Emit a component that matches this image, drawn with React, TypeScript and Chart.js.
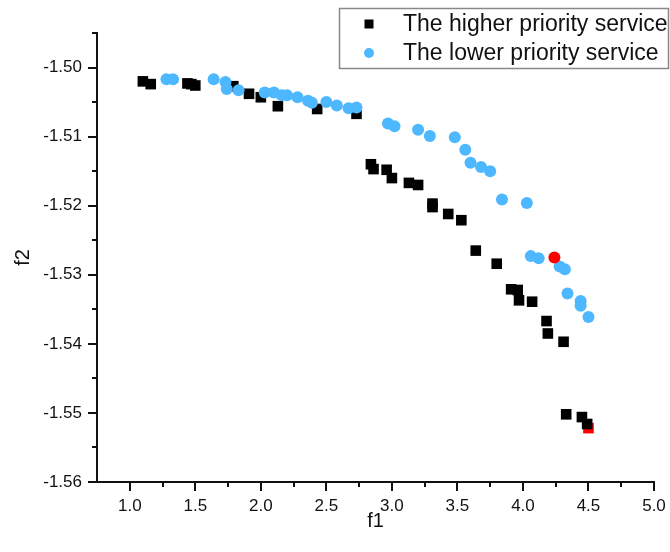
import React, { useEffect, useRef } from "react";
import { Chart, registerables } from "chart.js";

Chart.register(...registerables);

// ---- data ----
const higherX = [1.10, 1.16, 1.44, 1.47, 1.50, 1.79, 1.91, 2.00, 2.13, 2.43, 2.73, 2.84, 2.86, 2.96, 3.00, 3.13, 3.20, 3.31, 3.31, 3.43, 3.53, 3.64, 3.80, 3.91, 3.96, 3.97, 4.07, 4.18, 4.19, 4.31, 4.33, 4.45, 4.49];
const higherY = [-1.5020, -1.5024, -1.5023, -1.5024, -1.5026, -1.5027, -1.5038, -1.5043, -1.5056, -1.5060, -1.5067, -1.5140, -1.5147, -1.5148, -1.5160, -1.5167, -1.5170, -1.5197, -1.5202, -1.5212, -1.5221, -1.5265, -1.5284, -1.5321, -1.5322, -1.5337, -1.5339, -1.5367, -1.5385, -1.5397, -1.5502, -1.5506, -1.5516];

const lowerX = [1.28, 1.33, 1.64, 1.73, 1.74, 1.83, 2.03, 2.10, 2.16, 2.20, 2.28, 2.36, 2.39, 2.50, 2.58, 2.67, 2.73, 2.97, 3.02, 3.20, 3.29, 3.48, 3.56, 3.60, 3.68, 3.75, 3.84, 4.03, 4.06, 4.12, 4.28, 4.32, 4.34, 4.44, 4.44, 4.50];
const lowerY = [-1.5017, -1.5017, -1.5017, -1.5021, -1.5031, -1.5033, -1.5036, -1.5036, -1.5040, -1.5040, -1.5043, -1.5048, -1.5051, -1.5050, -1.5055, -1.5059, -1.5058, -1.5081, -1.5085, -1.5090, -1.5099, -1.5101, -1.5119, -1.5138, -1.5144, -1.5150, -1.5191, -1.5196, -1.5273, -1.5276, -1.5288, -1.5292, -1.5327, -1.5338, -1.5345, -1.5361];

const selectedHighX = [4.50];
const selectedHighY = [-1.5522];
const selectedLowX = [4.24];
const selectedLowY = [-1.5275];

const xTickValues = [1.0, 1.5, 2.0, 2.5, 3.0, 3.5, 4.0, 4.5, 5.0];
const xMinorValues = [1.25, 1.75, 2.25, 2.75, 3.25, 3.75, 4.25, 4.75];
const yTickValues = [-1.56, -1.55, -1.54, -1.53, -1.52, -1.51, -1.50];
const yMinorValues = [-1.555, -1.545, -1.535, -1.525, -1.515, -1.505, -1.495];

const legendLabels = ["The higher priority service", "The lower priority service"];
const xTitle = "f1";
const yTitle = "f2";

const FONT = "'Liberation Sans', Arial, sans-serif";
const BLUE = "#4db8ff";

const toPoints = (xs: number[], ys: number[]) => xs.map((x, i) => ({ x, y: ys[i] }));

const decorPlugin = {
  id: "decor",
  afterDraw(chart: any) {
    const ctx = chart.ctx;
    const xs = chart.scales.x;
    const ys = chart.scales.y;
    const area = chart.chartArea;
    ctx.save();
    ctx.strokeStyle = "#111";
    ctx.lineWidth = 2;
    const tick = (x1: number, y1: number, x2: number, y2: number) => {
      ctx.beginPath();
      ctx.moveTo(x1, y1);
      ctx.lineTo(x2, y2);
      ctx.stroke();
    };
    xTickValues.forEach((v) => {
      const p = Math.round(xs.getPixelForValue(v));
      tick(p, area.bottom, p, area.bottom + 9);
    });
    xMinorValues.forEach((v) => {
      const p = Math.round(xs.getPixelForValue(v));
      tick(p, area.bottom, p, area.bottom + 5);
    });
    yTickValues.forEach((v) => {
      const p = Math.round(ys.getPixelForValue(v));
      tick(area.left, p, area.left - 9, p);
    });
    yMinorValues.forEach((v) => {
      const p = Math.round(ys.getPixelForValue(v));
      tick(area.left, p, area.left - 5, p);
    });

    // axis titles
    ctx.fillStyle = "#111";
    ctx.font = `20px ${FONT}`;
    ctx.textAlign = "center";
    ctx.textBaseline = "middle";
    ctx.fillText(xTitle, (area.left + area.right) / 2, 521);
    ctx.save();
    ctx.translate(23, (area.top + area.bottom) / 2);
    ctx.rotate(-Math.PI / 2);
    ctx.fillText(yTitle, 0, 0);
    ctx.restore();

    // legend
    ctx.fillStyle = "#fff";
    ctx.fillRect(339, 8, 331, 61);
    ctx.strokeStyle = "#888";
    ctx.lineWidth = 1.5;
    ctx.strokeRect(339.5, 8.5, 329, 60);
    ctx.fillStyle = "#000";
    ctx.fillRect(369 - 4.5, 24 - 4.5, 9, 9);
    ctx.fillStyle = BLUE;
    ctx.beginPath();
    ctx.arc(369, 53, 5, 0, Math.PI * 2);
    ctx.fill();
    ctx.fillStyle = "#111";
    ctx.font = `23px ${FONT}`;
    ctx.textAlign = "left";
    ctx.textBaseline = "middle";
    ctx.fillText(legendLabels[0], 403, 25);
    ctx.fillText(legendLabels[1], 403, 54);
    ctx.restore();
  },
};

export default function App() {
  const ref = useRef<HTMLCanvasElement | null>(null);
  useEffect(() => {
    document.body.style.margin = "0";
    const canvas = ref.current;
    if (!canvas) return;
    const chart = new Chart(canvas, {
      type: "scatter",
      data: {
        datasets: [
          {
            label: "selected lower",
            data: toPoints(selectedLowX, selectedLowY),
            pointStyle: "circle",
            pointRadius: 6,
            backgroundColor: "#ff0000",
            borderColor: "#ff0000",
            borderWidth: 0,
            order: 0,
          },
          {
            label: legendLabels[1],
            data: toPoints(lowerX, lowerY),
            pointStyle: "circle",
            pointRadius: 6,
            backgroundColor: BLUE,
            borderColor: BLUE,
            borderWidth: 0,
            order: 1,
          },
          {
            label: legendLabels[0],
            data: toPoints(higherX, higherY),
            pointStyle: "rect",
            pointRadius: 7.5,
            backgroundColor: "#000",
            borderColor: "#000",
            borderWidth: 0,
            order: 2,
          },
          {
            label: "selected higher",
            data: toPoints(selectedHighX, selectedHighY),
            pointStyle: "rect",
            pointRadius: 7.5,
            backgroundColor: "#ff0000",
            borderColor: "#ff0000",
            borderWidth: 0,
            order: 3,
          },
        ],
      },
      options: {
        animation: false,
        responsive: false,
        events: [],
        layout: { autoPadding: false, padding: { top: 33, right: 16, left: 0, bottom: 0 } },
        plugins: { legend: { display: false }, tooltip: { enabled: false } },
        scales: {
          x: {
            type: "linear",
            min: 0.75,
            max: 5.0,
            grid: { display: false, drawTicks: false },
            border: { display: true, color: "#111", width: 2 },
            afterBuildTicks: (s: any) => {
              s.ticks = xTickValues.map((v) => ({ value: v }));
            },
            afterFit: (s: any) => {
              s.height = 70;
              s.paddingLeft = 0;
              s.paddingRight = 0;
            },
            ticks: {
              color: "#111",
              font: { family: FONT, size: 17 },
              padding: 14,
              maxRotation: 0,
              autoSkip: false,
              callback: (v: any) => Number(v).toFixed(1),
            },
          },
          y: {
            type: "linear",
            min: -1.56,
            max: -1.495,
            grid: { display: false, drawTicks: false },
            border: { display: true, color: "#111", width: 2 },
            afterBuildTicks: (s: any) => {
              s.ticks = yTickValues.map((v) => ({ value: v }));
            },
            afterFit: (s: any) => {
              s.width = 97;
              s.paddingTop = 0;
              s.paddingBottom = 0;
            },
            ticks: {
              color: "#111",
              font: { family: FONT, size: 17 },
              padding: 15,
              autoSkip: false,
              callback: (v: any) => Number(v).toFixed(2),
            },
          },
        },
      },
      plugins: [decorPlugin],
    } as any);
    return () => chart.destroy();
  }, []);
  return (
    <div style={{ width: 670, height: 552, background: "#fff" }}>
      <canvas ref={ref} width={670} height={552} style={{ display: "block" }} />
    </div>
  );
}
